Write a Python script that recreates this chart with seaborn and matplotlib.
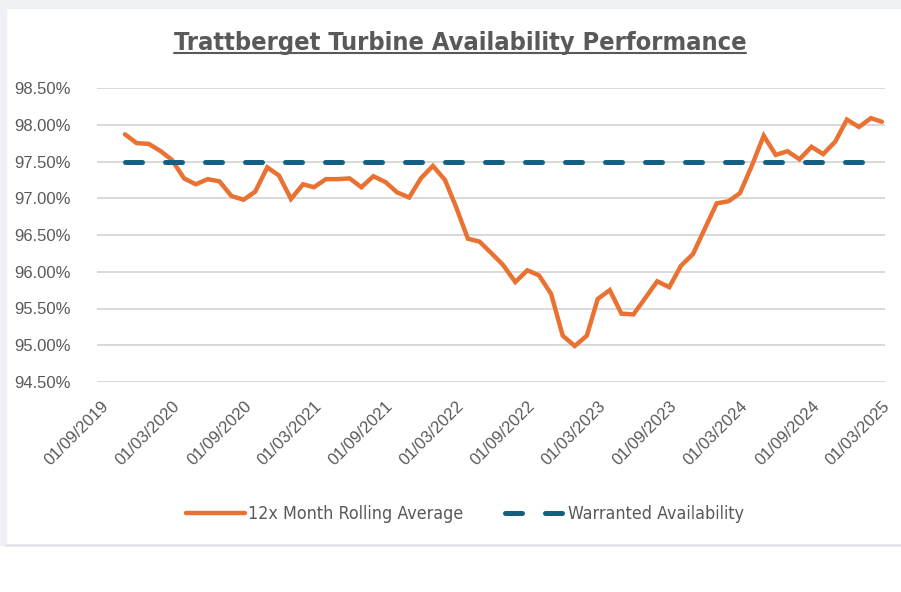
import matplotlib
matplotlib.use("Agg")
import matplotlib.pyplot as plt
import matplotlib.dates as mdates
from matplotlib.lines import Line2D
from matplotlib.patches import Rectangle
from matplotlib.ticker import FuncFormatter
from matplotlib import font_manager
import pandas as pd
import seaborn as sns

# monthly rolling average, Nov 2019 -> Mar 2025
months = pd.date_range("2019-11-01", "2025-03-01", freq="MS")
rolling_avg = [
    97.87, 97.75, 97.74, 97.64, 97.52, 97.27, 97.19, 97.26, 97.23, 97.03,
    96.98, 97.09, 97.42, 97.31, 96.99, 97.19, 97.15, 97.26, 97.26, 97.27,
    97.15, 97.30, 97.22, 97.08, 97.01, 97.27, 97.44, 97.25, 96.89, 96.45,
    96.41, 96.25, 96.09, 95.86, 96.02, 95.95, 95.70, 95.13, 94.99, 95.13,
    95.63, 95.75, 95.43, 95.42, 95.64, 95.87, 95.79, 96.08, 96.24, 96.58,
    96.93, 96.96, 97.07, 97.45, 97.85, 97.59, 97.64, 97.53, 97.70, 97.60,
    97.77, 98.07, 97.97, 98.09, 98.04,
]
warranted = [97.5] * len(months)
tick_dates = pd.date_range("2019-09-01", "2025-03-01", freq="6MS")

orange = "#E97132"
teal = "#156082"
text_grey = "#595959"
grid_grey = "#D9D9D9"

df = pd.DataFrame({"date": months, "avg": rolling_avg, "warranted": warranted})

sns.set_theme(style="white")
plt.rcParams["font.family"] = ["Liberation Sans", "DejaVu Sans"]

# narrow face for title / legend, as in the Excel original
narrow_names = {f.name for f in font_manager.fontManager.ttflist}
if "Liberation Sans Narrow" in narrow_names:
    narrow = dict(family="Liberation Sans Narrow", stretch="normal")
else:
    narrow = dict(family="DejaVu Sans", stretch="condensed")

fig = plt.figure(figsize=(9.01, 5.92), dpi=100)
ax = fig.add_axes([97 / 901, 1 - 382 / 592, (885 - 97) / 901, (382 - 88) / 592])

sns.lineplot(data=df, x="date", y="avg", ax=ax, color=orange, linewidth=3.2,
             label="12x Month Rolling Average", solid_capstyle="round",
             solid_joinstyle="miter")
sns.lineplot(data=df, x="date", y="warranted", ax=ax, color=teal, linewidth=3.6,
             label="Warranted Availability", dashes=False)
ax.lines[1].set_dashes((3.4, 4.6))
ax.lines[1].set_dash_capstyle("round")

ax.set_ylim(94.5, 98.5)
ax.set_yticks([94.5 + 0.5 * i for i in range(9)])
ax.yaxis.set_major_formatter(FuncFormatter(lambda v, p: f"{v:.2f}%"))
ax.set_xlim(pd.Timestamp("2019-08-21"), pd.Timestamp("2025-03-09"))
ax.set_xticks(tick_dates)
ax.xaxis.set_major_formatter(mdates.DateFormatter("%d/%m/%Y"))
plt.setp(ax.get_xticklabels(), rotation=45, ha="right", rotation_mode="anchor")
ax.tick_params(axis="both", length=0, labelsize=12, labelcolor=text_grey)
ax.tick_params(axis="y", pad=19)
ax.tick_params(axis="x", pad=12)
ax.set_xlabel("")
ax.set_ylabel("")
ax.grid(axis="y", color=grid_grey, linewidth=1.4)
ax.set_axisbelow(True)
for s in ax.spines.values():
    s.set_visible(False)
ax.get_legend().remove()

# legend under the axis labels
handles, labels = ax.get_legend_handles_labels()
fig.legend(handles, labels, loc="center", bbox_to_anchor=(465 / 901, 1 - 514 / 592),
           ncol=2, frameon=False, handlelength=3.3, handletextpad=0.2,
           columnspacing=2.35,
           prop=font_manager.FontProperties(size=12.8, **narrow),
           labelcolor=text_grey)

# page frame like the screenshot
frame_grey = "#EEF0F3"
fig.patches.append(Rectangle((0, 1 - 8 / 592), 1, 8 / 592, transform=fig.transFigure,
                             color=frame_grey, zorder=0))
fig.patches.append(Rectangle((0, 1 - 545 / 592), 6 / 901, 537 / 592,
                             transform=fig.transFigure, color=frame_grey, zorder=0))
fig.lines.append(Line2D([6 / 901, 1], [1 - 545 / 592] * 2, transform=fig.transFigure,
                        color="#E3E5E8", linewidth=2))

title = fig.text(460 / 901, 1 - 50 / 592, "Trattberget Turbine Availability Performance",
                 ha="center", va="baseline", fontsize=18.2, fontweight="bold",
                 color=text_grey, **narrow)
fig.canvas.draw()
bb = title.get_window_extent()
uy = 1 - 53 / 592
fig.lines.append(Line2D([bb.x0 / 901, bb.x1 / 901], [uy, uy], transform=fig.transFigure,
                        color=text_grey, linewidth=1.5))

fig.savefig("out.png", dpi=100)
